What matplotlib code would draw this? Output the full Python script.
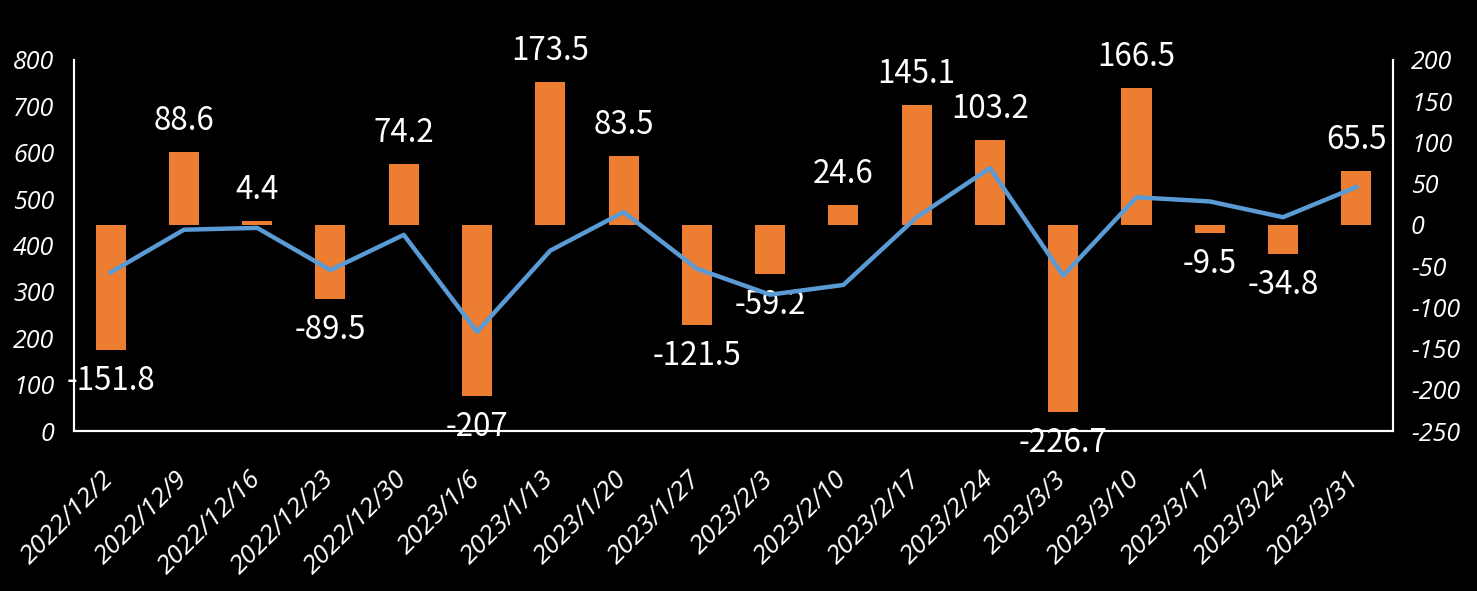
import matplotlib
matplotlib.use("Agg")
import matplotlib.pyplot as plt
import matplotlib.transforms as mtrans
import numpy as np

dates = ["2022/12/2", "2022/12/9", "2022/12/16", "2022/12/23", "2022/12/30",
         "2023/1/6", "2023/1/13", "2023/1/20", "2023/1/27", "2023/2/3",
         "2023/2/10", "2023/2/17", "2023/2/24", "2023/3/3", "2023/3/10",
         "2023/3/17", "2023/3/24", "2023/3/31"]
changes = [-151.8, 88.6, 4.4, -89.5, 74.2, -207, 173.5, 83.5, -121.5, -59.2,
           24.6, 145.1, 103.2, -226.7, 166.5, -9.5, -34.8, 65.5]
levels = [342, 434, 438, 347, 423, 214, 389, 472, 350, 294,
          315, 461, 567, 335, 504, 495, 461, 526]
left_ticks = [0, 100, 200, 300, 400, 500, 600, 700, 800]
right_ticks = [-250, -200, -150, -100, -50, 0, 50, 100, 150, 200]

BAR = "#ED7D31"
LINE = "#5B9BD5"
TICKFONT = dict(family=["Open Sans", "DejaVu Sans"], style="italic", size=18, color="white")
LABELFONT = dict(family=["Noto Sans CJK SC", "DejaVu Sans"], size=22.5, color="white")

fig = plt.figure(figsize=(14.77, 5.91), dpi=100, facecolor="black")
ax = fig.add_axes([0.0501, 0.2707, 0.8930, 0.6278])
ax.set_facecolor("black")
ax2 = ax.twinx()

x = np.arange(len(dates))

# bars on the right axis
ax2.bar(x, changes, width=0.41, color=BAR, zorder=2)
ax2.set_ylim(-250, 200)
ax2.set_yticks(right_ticks)
ax2.set_yticklabels([str(t) for t in right_ticks], **TICKFONT)

for xi, v in zip(x, changes):
    off = 31 if v >= 0 else -31
    txt = f"{v:g}"
    ax2.annotate(txt, (xi, v), xytext=(0, off), textcoords="offset pixels",
                 ha="center", va="center", zorder=5, **LABELFONT)

# line on the left axis, drawn above bars
ax.set_zorder(ax2.get_zorder() + 1)
ax.patch.set_visible(False)
ax2.patch.set_visible(False)
ax.plot(x, levels, color=LINE, linewidth=3.2, solid_joinstyle="round", zorder=3)
ax.set_ylim(0, 800)
ax.set_yticks(left_ticks)
ax.set_yticklabels([str(t) for t in left_ticks], **TICKFONT)
ax.set_xlim(-0.5, len(dates) - 0.5)
ax.set_xticks(x)
ax.set_xticklabels(dates, rotation=45, ha="right", va="center",
                   rotation_mode="anchor", family=["Open Sans", "DejaVu Sans"],
                   style="italic", size=19, color="white")
shift = mtrans.ScaledTranslation(8 / 100, 0, fig.dpi_scale_trans)
for lbl in ax.get_xticklabels():
    lbl.set_transform(lbl.get_transform() + shift)

for a in (ax, ax2):
    for s in a.spines.values():
        s.set_color("white")
        s.set_linewidth(1.5)
    a.spines["top"].set_visible(False)
    a.tick_params(axis="both", length=0)
ax.tick_params(axis="y", pad=14)
ax2.tick_params(axis="y", pad=13)
ax.tick_params(axis="x", pad=32)

fig.savefig("out.png", dpi=100, facecolor="black")
